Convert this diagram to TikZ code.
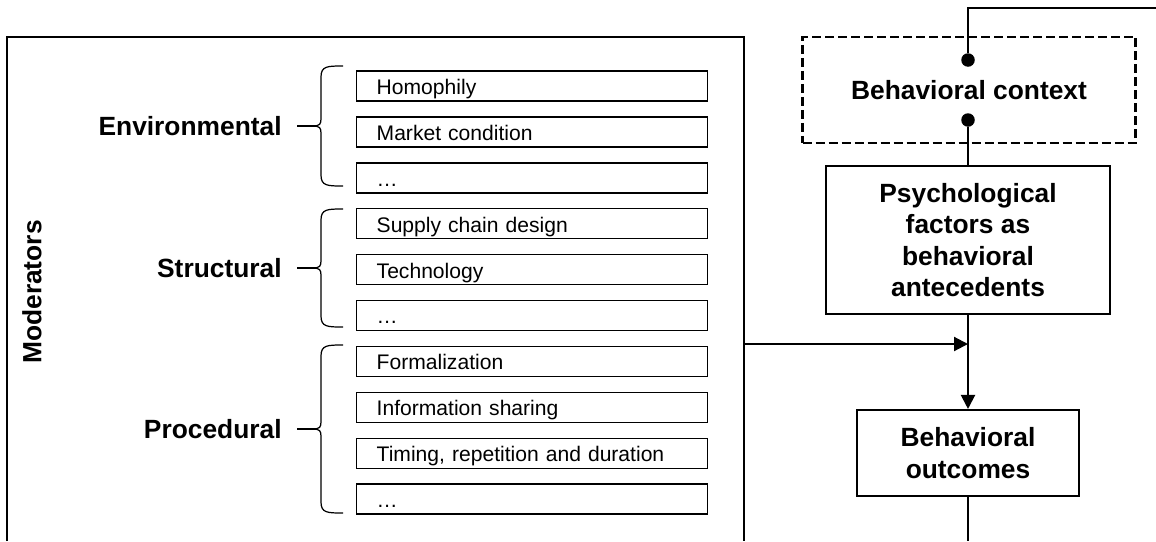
\documentclass[tikz,border=0pt]{standalone}
\usepackage{fontspec}
\setmainfont{Liberation Sans}
\usetikzlibrary{arrows.meta, positioning}

\begin{document}
\begin{tikzpicture}[>={Triangle[length=0.28cm,width=0.28cm]},
        mainbox/.style={draw, line width=1.2pt, align=center, font=\fontsize{15}{17.8}\selectfont\bfseries},
        itembox/.style={draw, line width=0.8pt, anchor=west, minimum height=0.6cm, text width=6.22cm,
                        text height=10pt, text depth=0.4pt,
                        inner xsep=0.4cm, inner ysep=0pt, align=left, font=\fontsize{12}{14}\selectfont},
        catlabel/.style={font=\fontsize{15}{18}\selectfont\bfseries, inner sep=0pt},
        dot/.style={circle, fill, inner sep=0pt, minimum size=0.27cm},
        bracket/.style={line width=0.7pt},
        link/.style={line width=1.2pt}]
        \useasboundingbox (0,0) rectangle (23.12,-10.82);

        % draw the moderators frame (open at the bottom)
        \draw[link] (0.14,-10.82) |- (14.88,-0.74) -- (14.88,-10.82);
        \node[catlabel, rotate=90] (moder) at (0.64,-5.84) {Moderators};

        % draw the list of moderators
        \foreach \txt [count=\i from 0] in {Homophily, Market condition, …,
                Supply chain design, Technology, …,
                Formalization, Information sharing, {Timing, repetition and duration}, …}
            \node[itembox] (item\i) at (7.12,{-1.72-0.918*\i}) {\txt};

        % draw the braces and the group names
        \foreach \nm/\lbl/\yt/\yb in {env/Environmental/-1.32/-3.72,
                str/Structural/-4.18/-6.54, prc/Procedural/-6.90/-10.26} {
            \pgfmathsetmacro\ym{(\yt+\yb)/2}
            \draw[bracket] (6.86,\yt) .. controls (6.55,\yt) and (6.42,\yt) .. (6.42,{\yt-0.22})
                -- (6.42,{\ym+0.14}) .. controls (6.42,{\ym+0.04}) and (6.38,\ym) .. (6.32,\ym)
                .. controls (6.38,\ym) and (6.42,{\ym-0.04}) .. (6.42,{\ym-0.14})
                -- (6.42,{\yb+0.22}) .. controls (6.42,\yb) and (6.55,\yb) .. (6.86,\yb);
            \coordinate (\nm-tip) at (6.32,\ym);
            \node[catlabel, left=0.68cm of \nm-tip] (\nm) {\lbl};
            \draw[bracket] ([xshift=0.3cm]\nm.east) -- (\nm-tip);
        }

        % draw the behavioral chain
        \node[mainbox, dash pattern=on 0.18cm off 0.08cm, minimum width=6.66cm, minimum height=2.12cm]
            (ctx) at (19.38,-1.8) {Behavioral context};
        \node[mainbox, minimum width=5.68cm, minimum height=2.96cm]
            (psych) at (19.36,-4.8) {Psychological\\factors as\\behavioral\\antecedents};
        \node[mainbox, minimum width=4.44cm, minimum height=1.72cm]
            (outc) at (19.36,-9.06) {Behavioral\\outcomes};

        \node[dot] (dottop) at (19.36,-1.2) {};
        \node[dot] (dotbot) at (19.36,-2.4) {};
        \coordinate (feedback) at (23.12,-0.16);
        \coordinate (modout) at (14.88,-6.88);
        \coordinate (outend) at (19.36,-10.82);

        % connectors
        \draw[link] (dottop) |- (feedback);
        \draw[link] (dotbot) -- (psych);
        \draw[link, ->] (psych) -- (outc);
        \draw[link, ->] (modout) -- (modout -| psych.south);
        \draw[link] (outc) -- (outend);
    \end{tikzpicture}
\end{document}
